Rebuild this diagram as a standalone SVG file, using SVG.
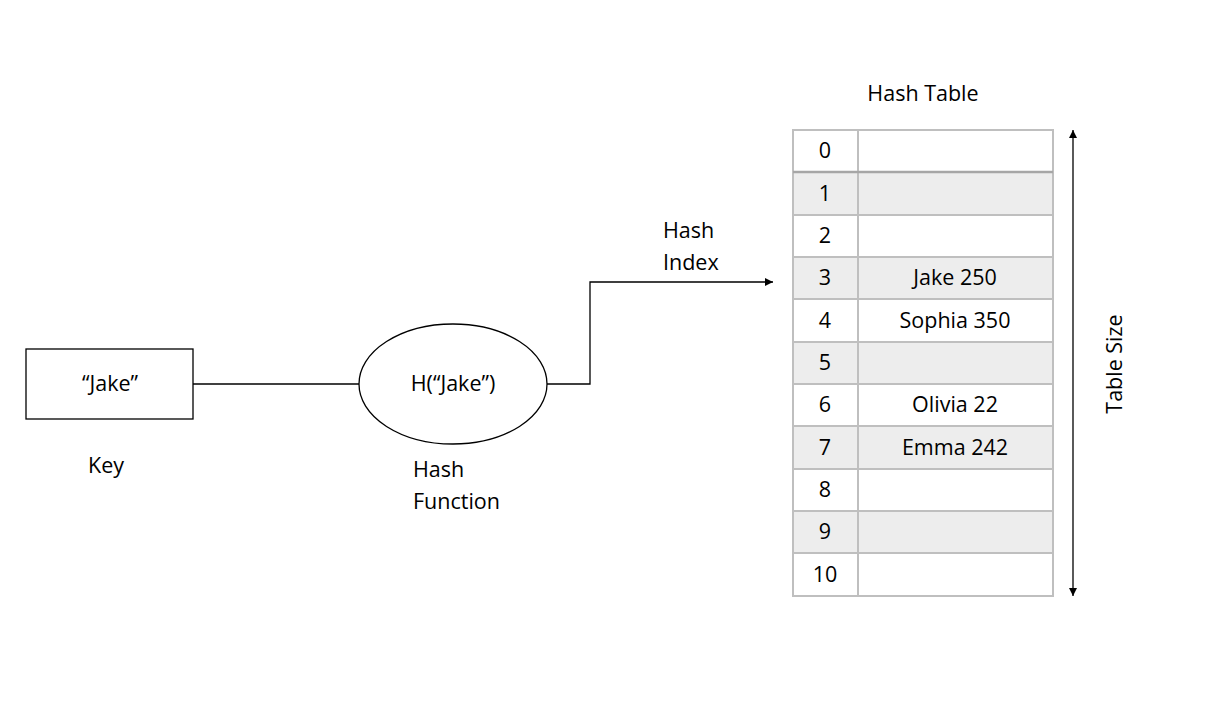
<svg xmlns="http://www.w3.org/2000/svg" width="1223" height="707" viewBox="0 0 1223 707">
<style>
text{font-family:"Open Sans","Liberation Sans",sans-serif;font-size:21.5px;fill:#000}
.c{text-anchor:middle}
.cell{stroke:#bfbfbf;stroke-width:2}
.w{fill:#fff}
.g{fill:#ededed}
.ln{fill:none;stroke:#000;stroke-width:1.3}
</style>
<defs>
<marker id="ah" viewBox="0 0 10 10" refX="10" refY="5" markerWidth="8" markerHeight="8" markerUnits="userSpaceOnUse" orient="auto-start-reverse">
<path d="M0,0 L10,5 L0,10 z" fill="#000"/>
</marker>
</defs>
<rect width="1223" height="707" fill="#fff"/>
<g id="connectors">
<line class="ln" x1="193" y1="384" x2="359" y2="384"/>
<polyline class="ln" points="547,384 590,384 590,282 773,282" marker-end="url(#ah)"/>
<line class="ln" x1="1073" y1="130" x2="1073" y2="596" marker-start="url(#ah)" marker-end="url(#ah)"/>
</g>
<g id="key">
<rect x="26" y="349" width="167" height="70" fill="#fff" stroke="#000" stroke-width="1.3"/>
<text class="c" x="110" y="391">“Jake”</text>
<text x="88" y="473">Key</text>
</g>
<g id="hash-function">
<ellipse cx="453" cy="384" rx="94" ry="60" fill="#fff" stroke="#000" stroke-width="1.3"/>
<text class="c" x="453" y="391">H(“Jake”)</text>
<text x="413" y="477">Hash</text>
<text x="413" y="509">Function</text>
</g>
<g id="hash-index">
<text x="663" y="238">Hash</text>
<text x="663" y="270">Index</text>
</g>
<g id="hash-table">
<text class="c" x="923" y="101">Hash Table</text>
<rect class="cell w" x="793" y="130" width="65" height="42"/><rect class="cell w" x="858" y="130" width="195" height="42"/>
<rect class="cell g" x="793" y="172" width="65" height="43"/><rect class="cell g" x="858" y="172" width="195" height="43"/>
<rect class="cell w" x="793" y="215" width="65" height="42"/><rect class="cell w" x="858" y="215" width="195" height="42"/>
<rect class="cell g" x="793" y="257" width="65" height="42"/><rect class="cell g" x="858" y="257" width="195" height="42"/>
<rect class="cell w" x="793" y="299" width="65" height="43"/><rect class="cell w" x="858" y="299" width="195" height="43"/>
<rect class="cell g" x="793" y="342" width="65" height="42"/><rect class="cell g" x="858" y="342" width="195" height="42"/>
<rect class="cell w" x="793" y="384" width="65" height="42"/><rect class="cell w" x="858" y="384" width="195" height="42"/>
<rect class="cell g" x="793" y="426" width="65" height="43"/><rect class="cell g" x="858" y="426" width="195" height="43"/>
<rect class="cell w" x="793" y="469" width="65" height="42"/><rect class="cell w" x="858" y="469" width="195" height="42"/>
<rect class="cell g" x="793" y="511" width="65" height="42"/><rect class="cell g" x="858" y="511" width="195" height="42"/>
<rect class="cell w" x="793" y="553" width="65" height="43"/><rect class="cell w" x="858" y="553" width="195" height="43"/>
<line x1="793" y1="172" x2="1053" y2="172" stroke="#a6a6a6" stroke-width="2.5"/>
<text class="c" x="825" y="158">0</text>
<text class="c" x="825" y="201">1</text>
<text class="c" x="825" y="243">2</text>
<text class="c" x="825" y="285">3</text>
<text class="c" x="825" y="328">4</text>
<text class="c" x="825" y="370">5</text>
<text class="c" x="825" y="412">6</text>
<text class="c" x="825" y="455">7</text>
<text class="c" x="825" y="497">8</text>
<text class="c" x="825" y="539">9</text>
<text class="c" x="825" y="582">10</text>
<text class="c" x="955" y="285">Jake 250</text>
<text class="c" x="955" y="328">Sophia 350</text>
<text class="c" x="955" y="412">Olivia 22</text>
<text class="c" x="955" y="455">Emma 242</text>
<text class="c" transform="translate(1122,364) rotate(-90)">Table Size</text>
</g>
</svg>
